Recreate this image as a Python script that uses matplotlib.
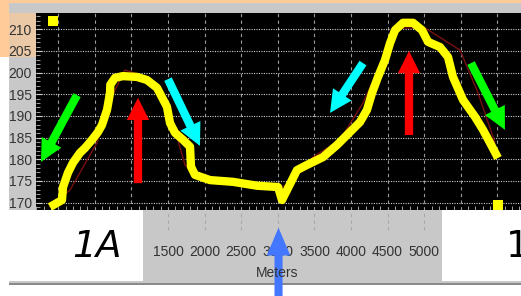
import matplotlib
matplotlib.use("Agg")
import matplotlib.pyplot as plt
from matplotlib.patches import Rectangle, FancyArrowPatch, ArrowStyle
from matplotlib.ticker import MultipleLocator

W, H = 521, 296

# hand drawn yellow trace over the profile (metres, elevation)
dist_yellow = [-112, 52, 66, 134, 202, 298, 366, 462, 544, 598, 667, 708, 712,
               776, 885, 1077, 1213, 1350, 1486, 1527, 1596, 1705, 1801, 1814,
               1869, 2074, 2388, 2716, 3003, 3057, 3126, 3262, 3399, 3617, 3809,
               3945, 4123, 4218, 4287, 4369, 4464, 4533, 4601, 4710, 4847, 4970,
               5052, 5216, 5325, 5393, 5530, 5694, 5803, 5899, 6008]
elev_yellow = [169.0, 170.6, 173.6, 176.9, 179.2, 181.5, 182.6, 184.5, 186.3,
               187.9, 191.4, 195.3, 197.2, 198.8, 199.2, 199.0, 198.3, 196.5,
               192.1, 188.4, 186.1, 184.5, 182.9, 178.3, 176.4, 175.2, 174.8,
               173.9, 173.6, 170.6, 172.9, 177.5, 178.7, 180.5, 183.3, 185.6,
               188.6, 191.4, 195.3, 199.0, 202.9, 206.8, 209.8, 211.5, 211.5,
               209.8, 207.1, 205.9, 203.6, 199.0, 193.7, 189.8, 186.8, 183.8,
               180.3]

# the thin dark red elevation profile underneath
dist_profile = [-112, 161, 530, 708, 913, 1118, 1391, 1596, 1732, 1937, 2620,
                3030, 3167, 3481, 3850, 4164, 4464, 4669, 5011, 5489, 5735, 5967]
elev_profile = [169.0, 172.9, 183.8, 193.7, 200.6, 199.5, 196.0, 186.8, 178.7,
                175.7, 174.5, 173.4, 174.5, 180.5, 184.5, 193.0, 204.1, 210.3,
                210.3, 205.2, 195.3, 183.8]

y_ticks = list(range(170, 211, 5))
x_ticks = list(range(0, 6001, 500))
x_labels = [str(t) if 1500 <= t <= 5000 else "" for t in x_ticks]

# annotation arrows: tail x, tail y, tip x, tip y, colour
arrows = [
    (257, 194.8, -235, 179.4, "#00ff00"),
    (1090, 174.5, 1090, 194.2, "#ff0000"),
    (1500, 198.5, 1937, 183.1, "#00ffff"),
    (4164, 202.2, 3713, 190.7, "#00ffff"),
    (4792, 185.6, 4792, 205.0, "#ff0000"),
    (5639, 202.2, 6103, 186.8, "#00ff00"),
]
markers_x = [-71, 6008]
markers_y = [211.9, 169.5]

font = ["Liberation Sans Narrow", "Liberation Sans", "DejaVu Sans"]
plt.rcParams["font.family"] = font

fig = plt.figure(figsize=(W / 100, H / 100), dpi=100)
fig.patch.set_facecolor("white")


def px_rect(x0, y0, x1, y1, color, z):
    r = Rectangle((x0 / W, 1 - y1 / H), (x1 - x0) / W, (y1 - y0) / H,
                  transform=fig.transFigure, facecolor=color, edgecolor="none",
                  zorder=z)
    fig.add_artist(r)


# screenshot panels
px_rect(9, 3, 521, 283, "#c8c8c8", -2)
px_rect(0, 0, 521, 3, "#ffcc99", -1)
px_rect(0, 0, 9, 57, "#ffcc99", -1)
px_rect(9, 13, 36, 57, "#ecc9a6", -1)
px_rect(9, 283, 521, 285, "#8a8a8a", -1)
px_rect(9, 210, 143, 281, "white", 2)
px_rect(442, 210, 521, 281, "white", 2)

ax = fig.add_axes([36 / W, 1 - 210 / H, 485 / W, 197 / H])
ax.set_facecolor("black")
for s in ax.spines.values():
    s.set_visible(False)

ax.set_xlim(-303, 6322)
ax.set_ylim(168.3, 213.76)
ax.set_xticks(x_ticks, x_labels)
ax.set_yticks(y_ticks)
ax.xaxis.set_minor_locator(MultipleLocator(100))
ax.yaxis.set_minor_locator(MultipleLocator(1))
ax.tick_params(axis="x", which="major", length=0, pad=25, labelsize=10,
               labelcolor="#333333")
ax.tick_params(axis="y", which="major", direction="in", length=4,
               color="#cccccc", pad=3, labelsize=10, labelcolor="#333333")
ax.tick_params(which="minor", direction="in", length=3, width=0.6,
               color="#bbbbbb")
ax.grid(axis="y", color="#d0d0d0", linestyle=(0, (1, 1.2)), linewidth=0.8)
ax.grid(axis="x", color="#9a9a9a", linestyle=(0, (3, 3)), linewidth=0.8)
ax.vlines(x_ticks, -0.1, 0, transform=ax.get_xaxis_transform(), clip_on=False,
          color="#a8a8a8", linestyle=(0, (3, 3)), linewidth=0.8)

ax.plot(dist_profile, elev_profile, color="#7a1010", linewidth=1, zorder=3)
ax.plot(dist_yellow, elev_yellow, color="#ffff00", linewidth=6,
        solid_capstyle="butt", solid_joinstyle="round", zorder=4)
ax.plot(markers_x, markers_y, linestyle="none", marker="s", markersize=6.5,
        color="#ffff00", markeredgewidth=0, zorder=5)

for x0, y0, x1, y1, c in arrows:
    ax.add_patch(FancyArrowPatch(
        (x0, y0), (x1, y1),
        arrowstyle=ArrowStyle.Simple(head_length=16, head_width=16,
                                     tail_width=6),
        mutation_scale=1, shrinkA=0, shrinkB=0, color=c, linewidth=0,
        zorder=6))

# blue arrow pointing at the low point
blue = FancyArrowPatch((3010, -0.44), (3010, -0.09),
                       transform=ax.get_xaxis_transform(),
                       arrowstyle=ArrowStyle.Simple(head_length=20,
                                                    head_width=17,
                                                    tail_width=5.8),
                       mutation_scale=1, shrinkA=0, shrinkB=0,
                       color="#4477ff", linewidth=0, clip_on=False, zorder=10)
ax.add_patch(blue)

fig.text(277 / W, 1 - 273 / H, "Meters", ha="center", va="center",
         fontsize=10, color="#333333", zorder=3)
fig.text(97 / W, 1 - 247 / H, "1A", ha="center", va="center", fontsize=27,
         family="DejaVu Sans", fontstyle="italic", color="black", zorder=3)
fig.text(506 / W, 1 - 247 / H, "1", ha="left", va="center", fontsize=27,
         family="DejaVu Sans", color="black", zorder=3)

fig.savefig("out.png", dpi=100)
